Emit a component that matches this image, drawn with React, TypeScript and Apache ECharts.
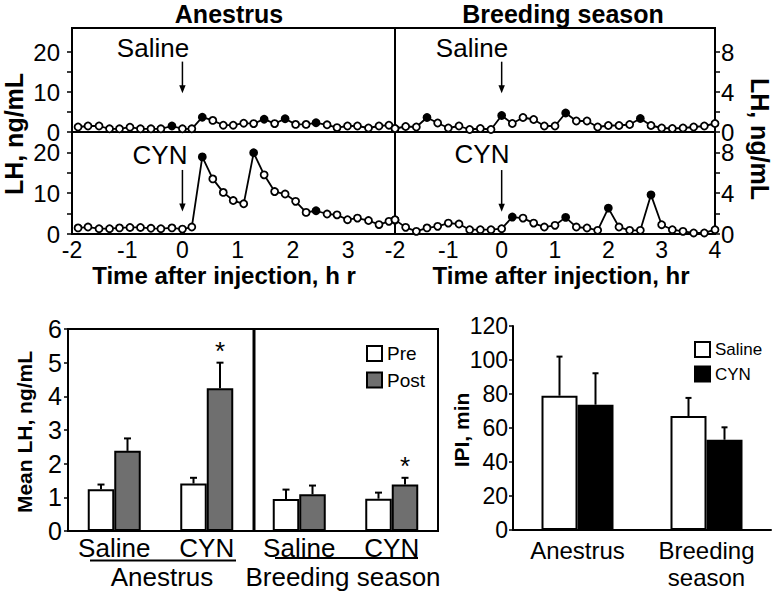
import React, { useEffect, useRef } from 'react';
import * as echarts from 'echarts';

// ---- Time series (LH pulses) ----
const timeAnestrus = [-1.89, -1.71, -1.51, -1.32, -1.14, -0.95, -0.76, -0.57, -0.39, -0.19, 0, 0.17, 0.36, 0.55, 0.74, 0.92, 1.11, 1.29, 1.48, 1.67, 1.86, 2.05, 2.24, 2.42, 2.62, 2.8, 2.99, 3.17, 3.37, 3.56, 3.74, 3.85];
const lhAnestrusSaline = [1.25, 1.5, 1.5, 0.8, 0.8, 1.2, 0.8, 0.8, 0.8, 1.5, 0.8, 0.8, 3.7, 2.9, 1.7, 1.7, 2.2, 2.1, 3.2, 2.1, 3.3, 1.9, 1.9, 2.3, 1.8, 1.1, 1.5, 1.5, 1.0, 1.5, 1.7, 0.8];
const lhAnestrusCyn = [1.5, 1.7, 1.3, 1.3, 1.5, 1.6, 1.6, 1.4, 1.3, 1.5, 1.2, 1.7, 18.9, 13.5, 10.2, 8.2, 7.4, 19.9, 14.5, 10.4, 9.8, 8.0, 5.3, 5.7, 4.9, 4.7, 3.5, 3.9, 3.3, 2.3, 3.1, 3.4];
const pulsesAnestrusSaline = [9, 12, 18, 20, 23];
const pulsesAnestrusCyn = [12, 17, 23];

const timeBreeding = [-2, -1.8, -1.6, -1.4, -1.2, -1, -0.8, -0.6, -0.4, -0.2, 0, 0.2, 0.4, 0.6, 0.8, 1, 1.2, 1.4, 1.6, 1.8, 2, 2.2, 2.4, 2.6, 2.8, 3, 3.2, 3.4, 3.6, 3.8, 4];
const lhBreedingSaline = [0.35, 0.55, 0.5, 1.45, 0.9, 0.4, 0.6, 0.25, 0.35, 0.25, 1.65, 0.85, 1.45, 1.25, 0.6, 0.6, 1.9, 1.1, 1.1, 0.5, 0.65, 0.65, 0.75, 1.35, 0.65, 0.4, 0.35, 0.4, 0.5, 0.6, 0.85];
const lhBreedingCyn = [1.4, 0.65, 0.26, 0.6, 0.75, 1.07, 0.98, 0.42, 0.42, 0.42, 0.52, 1.66, 1.56, 1.07, 0.68, 0.85, 1.63, 0.68, 0.59, 0.36, 2.54, 0.68, 0.36, 0.36, 3.84, 0.91, 0.42, 0.26, 0.1, 0.1, 0.42];
const pulsesBreedingSaline = [3, 10, 16, 23];
const pulsesBreedingCyn = [11, 16, 20, 24];

const timeTicksAnestrus = [-2, -1, 0, 1, 2, 3];
const timeTicksBreeding = [-2, -1, 0, 1, 2, 3, 4];
const lhLeftLabels = [0, 10, 20];
const lhLeftTicks = [0, 5, 10, 15, 20];
const lhRightLabels = [0, 4, 8];
const lhRightTicks = [0, 2, 4, 6, 8];

// ---- Mean LH bars ----
const meanLhGroups = ['Saline', 'CYN', 'Saline', 'CYN'];
const meanLhPre = [1.24, 1.41, 0.95, 0.96];
const meanLhPreSem = [0.14, 0.17, 0.28, 0.18];
const meanLhPost = [2.38, 4.24, 1.09, 1.38];
const meanLhPostSem = [0.37, 0.76, 0.26, 0.2];
const meanLhPostSignificant = [false, true, false, true];

// ---- IPI bars ----
const ipiSeasons = ['Anestrus', 'Breeding\nseason'];
const ipiSaline = [79, 67];
const ipiSalineSem = [23, 10.7];
const ipiCyn = [73.7, 53.1];
const ipiCynSem = [18.5, 7.3];

const SANS = "'Liberation Sans', Arial, Helvetica, sans-serif";
const BLACK = '#000';

function txt(text: string, x: number, y: number, size: number, bold = false, rotation = 0, vAlign = 'middle') {
  return {
    type: 'text',
    x,
    y,
    rotation,
    z: 20,
    silent: true,
    style: {
      text,
      fill: BLACK,
      font: `${bold ? 'bold ' : ''}${size}px ${SANS}`,
      lineHeight: size,
      textAlign: 'center',
      textVerticalAlign: vAlign,
      align: 'center',
      verticalAlign: vAlign,
    },
  };
}

function hline(x1: number, y1: number, x2: number, y2: number, w: number) {
  return { type: 'line', silent: true, z: 20, shape: { x1, y1, x2, y2 }, style: { stroke: BLACK, lineWidth: w } };
}

function lineSeries(name: string, times: number[], values: number[], pulses: number[], idx: number) {
  return {
    name,
    type: 'line',
    xAxisIndex: idx,
    yAxisIndex: idx,
    clip: false,
    silent: true,
    symbol: 'circle',
    symbolSize: 7,
    showSymbol: true,
    z: 5,
    lineStyle: { color: BLACK, width: 1.8 },
    itemStyle: { color: '#fff', borderColor: BLACK, borderWidth: 1.8 },
    emphasis: { disabled: true },
    data: times.map((t, i) => {
      const item: any = { value: [t, values[i]] };
      if (pulses.includes(i)) item.itemStyle = { color: BLACK, borderColor: BLACK, borderWidth: 1.8 };
      return item;
    }),
  };
}

// injection arrow at time 0, drawn through the panel's scales
function arrowSeries(idx: number, from: number, to: number) {
  return {
    type: 'custom',
    xAxisIndex: idx,
    yAxisIndex: idx,
    silent: true,
    clip: false,
    z: 6,
    data: [[0, from, to]],
    renderItem: (params: any, api: any) => {
      const p0 = api.coord([api.value(0), api.value(1)]);
      const p1 = api.coord([api.value(0), api.value(2)]);
      const x = p0[0];
      return {
        type: 'group',
        children: [
          { type: 'line', shape: { x1: x, y1: p0[1], x2: x, y2: p1[1] - 6 }, style: { stroke: BLACK, lineWidth: 1.5 } },
          { type: 'polygon', shape: { points: [[x - 3.2, p1[1] - 8], [x + 3.2, p1[1] - 8], [x, p1[1]]] }, style: { fill: BLACK } },
        ],
      };
    },
  };
}

function errorSeries(means: number[], sems: number[], idx: number, offset: number, cap: number, sig?: boolean[]) {
  return {
    type: 'custom',
    xAxisIndex: idx,
    yAxisIndex: idx,
    silent: true,
    z: 6,
    data: means.map((m, i) => [i, m, m + sems[i], sig && sig[i] ? 1 : 0]),
    renderItem: (params: any, api: any) => {
      const c = api.value(0);
      const p0 = api.coord([c, api.value(1)]);
      const p1 = api.coord([c, api.value(2)]);
      const x = p0[0] + offset;
      const children: any[] = [
        { type: 'line', shape: { x1: x, y1: p0[1], x2: x, y2: p1[1] }, style: { stroke: BLACK, lineWidth: 2 } },
        { type: 'line', shape: { x1: x - cap, y1: p1[1], x2: x + cap, y2: p1[1] }, style: { stroke: BLACK, lineWidth: 2 } },
      ];
      if (api.value(3) === 1) {
        children.push({
          type: 'text',
          style: {
            text: '*', x, y: p1[1] - 12, fill: BLACK, font: `26px ${SANS}`, lineHeight: 20,
            textAlign: 'center', textVerticalAlign: 'middle', align: 'center', verticalAlign: 'middle',
          },
        });
      }
      return { type: 'group', children };
    },
  };
}

const axisLine = { show: true, onZero: false, lineStyle: { color: BLACK, width: 2 } };

function timeX(grid: number, max: number, labels: number[] | null) {
  return {
    gridIndex: grid,
    type: 'value',
    min: -2,
    max,
    axisLine,
    axisTick: { show: false },
    splitLine: { show: false },
    axisLabel: labels
      ? { show: true, customValues: labels, fontSize: 23, fontFamily: SANS, color: BLACK, margin: 5, lineHeight: 21 }
      : { show: false },
  };
}

function lhY(grid: number, max: number, right: boolean) {
  return {
    gridIndex: grid,
    type: 'value',
    min: 0,
    max,
    position: right ? 'right' : 'left',
    axisLine,
    splitLine: { show: false },
    axisTick: { show: true, length: 5, customValues: right ? lhRightTicks : lhLeftTicks, lineStyle: { color: BLACK, width: 1.5 } },
    axisLabel: {
      customValues: right ? lhRightLabels : lhLeftLabels, fontSize: 24, lineHeight: 19,
      fontFamily: SANS, color: BLACK, margin: right ? 6 : 12,
    },
  };
}

export default function App() {
  const ref = useRef<HTMLDivElement>(null);
  useEffect(() => {
    document.body.style.margin = '0';
    if (!ref.current) return;
    const chart = echarts.init(ref.current, undefined, { renderer: 'svg' });
    const gridBox = { show: true, borderColor: BLACK, borderWidth: 2, containLabel: false };
    const option: any = {
      animation: false,
      backgroundColor: '#fff',
      textStyle: { fontFamily: SANS },
      grid: [
        { ...gridBox, left: 72, top: 28, width: 323, height: 104 },
        { ...gridBox, left: 72, top: 132, width: 323, height: 102 },
        { ...gridBox, left: 395, top: 28, width: 320, height: 104 },
        { ...gridBox, left: 395, top: 132, width: 320, height: 102 },
        { ...gridBox, left: 68, top: 329, width: 370, height: 202 },
        { show: false, left: 513, top: 326, width: 258, height: 205 },
      ],
      xAxis: [
        timeX(0, 3.85, null),
        timeX(1, 3.85, timeTicksAnestrus),
        timeX(2, 4, null),
        timeX(3, 4, timeTicksBreeding),
        {
          gridIndex: 4, type: 'category', data: meanLhGroups, axisLine, axisTick: { show: false },
          axisLabel: { fontSize: 26, color: BLACK, fontFamily: SANS, margin: 2, lineHeight: 30, interval: 0 },
        },
        {
          gridIndex: 5, type: 'category', data: ipiSeasons, axisLine, axisTick: { show: false },
          axisLabel: { fontSize: 24, color: BLACK, fontFamily: SANS, margin: 7, lineHeight: 27, interval: 0 },
        },
      ],
      yAxis: [
        lhY(0, 26, false),
        lhY(1, 25, false),
        lhY(2, 10.4, true),
        lhY(3, 10, true),
        {
          gridIndex: 4, type: 'value', min: 0, max: 6, interval: 1, axisLine, splitLine: { show: false },
          axisTick: { show: true, length: 4, lineStyle: { color: BLACK, width: 1.5 } },
          axisLabel: { fontSize: 25, color: BLACK, fontFamily: SANS, margin: 6 },
        },
        {
          gridIndex: 5, type: 'value', min: 0, max: 120, interval: 20, axisLine, splitLine: { show: false },
          axisTick: { show: true, length: 4, lineStyle: { color: BLACK, width: 1.5 } },
          axisLabel: { fontSize: 23, color: BLACK, fontFamily: SANS, margin: 5 },
        },
      ],
      legend: [
        {
          data: ['Pre', 'Post'], orient: 'vertical', left: 361, top: 339, icon: 'rect',
          itemWidth: 15, itemHeight: 15, itemGap: 7.5, selectedMode: false,
          textStyle: { fontSize: 19, color: BLACK, fontFamily: SANS, lineHeight: 16 },
        },
        {
          data: ['Saline', 'CYN'], orient: 'vertical', left: 689, top: 336, icon: 'rect',
          itemWidth: 15, itemHeight: 15, itemGap: 7.5, selectedMode: false,
          textStyle: { fontSize: 17, color: BLACK, fontFamily: SANS, lineHeight: 16 },
        },
      ],
      series: [
        lineSeries('anSaline', timeAnestrus, lhAnestrusSaline, pulsesAnestrusSaline, 0),
        lineSeries('anCyn', timeAnestrus, lhAnestrusCyn, pulsesAnestrusCyn, 1),
        lineSeries('brSaline', timeBreeding, lhBreedingSaline, pulsesBreedingSaline, 2),
        lineSeries('brCyn', timeBreeding, lhBreedingCyn, pulsesBreedingCyn, 3),
        arrowSeries(0, 17.6, 9.7),
        arrowSeries(1, 15.7, 5.5),
        arrowSeries(2, 7.03, 3.87),
        arrowSeries(3, 6.27, 2.19),
        {
          name: 'Pre', type: 'bar', xAxisIndex: 4, yAxisIndex: 4, data: meanLhPre, barWidth: 26.5, barGap: '0%', silent: true,
          itemStyle: { color: '#fff', borderColor: BLACK, borderWidth: 2 },
        },
        {
          name: 'Post', type: 'bar', xAxisIndex: 4, yAxisIndex: 4, data: meanLhPost, barWidth: 26.5, barGap: '0%', silent: true,
          itemStyle: { color: '#6f6f6f', borderColor: BLACK, borderWidth: 2 },
        },
        errorSeries(meanLhPre, meanLhPreSem, 4, -13.25, 3.5),
        errorSeries(meanLhPost, meanLhPostSem, 4, 13.25, 3.5, meanLhPostSignificant),
        {
          name: 'Saline', type: 'bar', xAxisIndex: 5, yAxisIndex: 5, data: ipiSaline, barWidth: 36, barGap: '0%', silent: true,
          itemStyle: { color: '#fff', borderColor: BLACK, borderWidth: 2 },
        },
        {
          name: 'CYN', type: 'bar', xAxisIndex: 5, yAxisIndex: 5, data: ipiCyn, barWidth: 36, barGap: '0%', silent: true,
          itemStyle: { color: BLACK, borderColor: BLACK, borderWidth: 2 },
        },
        errorSeries(ipiSaline, ipiSalineSem, 5, -18, 3),
        errorSeries(ipiCyn, ipiCynSem, 5, 18, 3),
      ],
      graphic: [
        txt('Anestrus', 229, 1, 25, true, 0, 'top'),
        txt('Breeding season', 563, 1, 25, true, 0, 'top'),
        txt('Saline', 153, 48, 26),
        txt('CYN', 160, 155, 26),
        txt('Saline', 472, 48, 26),
        txt('CYN', 482, 154, 26),
        txt('LH, ng/mL', 14, 134, 25, true, Math.PI / 2),
        txt('LH, ng/mL', 760, 139, 25, true, -Math.PI / 2),
        txt('Time after injection, h r', 224, 275, 24, true),
        txt('Time after injection, hr', 561, 275, 24, true),
        txt('Mean LH, ng/mL', 24, 432, 21, true, Math.PI / 2),
        txt('IPI, min', 461, 430, 21, true, Math.PI / 2),
        txt('Anestrus', 162, 577, 26),
        txt('Breeding season', 343, 577, 26),
        hline(254, 329, 254, 531, 3),
        hline(90, 560.5, 236, 560.5, 2),
        hline(275, 558, 418, 558, 2),
      ],
    };
    chart.setOption(option);
    return () => chart.dispose();
  }, []);
  return <div ref={ref} style={{ width: 773, height: 591 }} />;
}
